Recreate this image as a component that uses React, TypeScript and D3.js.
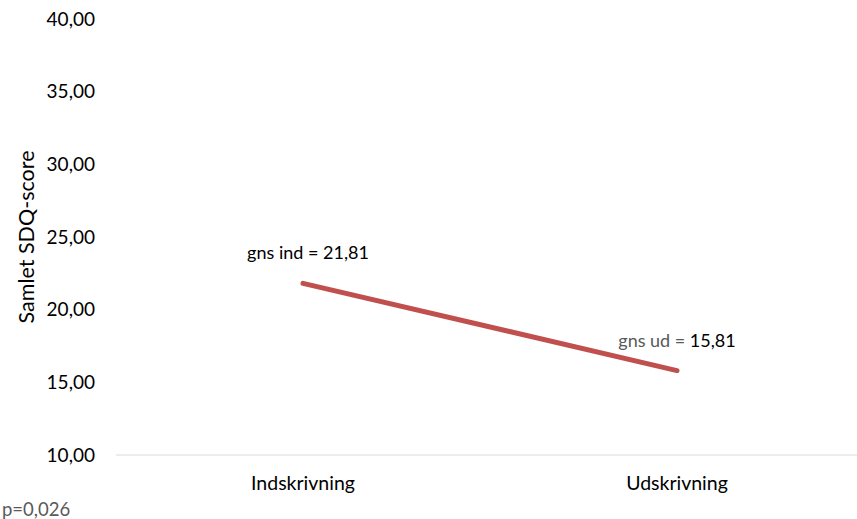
import { useEffect, useRef } from 'react'
import * as d3 from 'd3'

const categories = ['Indskrivning', 'Udskrivning']
const values = [21.81, 15.81]
const yTicks = [10, 15, 20, 25, 30, 35, 40]
const pointLabels = [
  { prefix: 'gns ind = ', value: '21,81', prefixColor: '#000' },
  { prefix: 'gns ud = ', value: '15,81', prefixColor: '#595959' },
]

export default function App() {
  const svgRef = useRef<SVGSVGElement>(null)

  useEffect(() => {
    if (!svgRef.current) return
    const svg = d3.select(svgRef.current)
    svg.selectAll('*').remove()

    const width = 857
    const height = 519
    const font = "Lato, 'Open Sans', sans-serif"

    svg.attr('width', width).attr('height', height)

    const x = d3.scaleBand().domain(categories).range([116, 864])
    const y = d3.scaleLinear().domain([10, 40]).range([455, 19])

    const cx = (c: string) => (x(c) || 0) + x.bandwidth() / 2

    // y tick labels
    svg.append('g')
      .selectAll('text')
      .data(yTicks)
      .enter()
      .append('text')
      .attr('x', 95)
      .attr('y', d => y(d))
      .attr('dy', '0.35em')
      .attr('text-anchor', 'end')
      .style('font-family', font)
      .style('font-size', '19px')
      .style('fill', '#000')
      .text(d => d3.format('.2f')(d).replace('.', ','))

    // x axis line
    svg.append('line')
      .attr('x1', 116)
      .attr('x2', width)
      .attr('y1', y(10))
      .attr('y2', y(10))
      .attr('stroke', '#D9D9D9')
      .attr('stroke-width', 1)

    // x labels
    svg.append('g')
      .selectAll('text')
      .data(categories)
      .enter()
      .append('text')
      .attr('x', d => cx(d))
      .attr('y', 483)
      .attr('dy', '0.35em')
      .attr('text-anchor', 'middle')
      .style('font-family', font)
      .style('font-size', '19.5px')
      .style('fill', '#000')
      .text(d => d)

    // y title
    svg.append('text')
      .attr('transform', `translate(26,${y(25)}) rotate(-90)`)
      .attr('text-anchor', 'middle')
      .attr('dy', '0.35em')
      .style('font-family', font)
      .style('font-size', '21.5px')
      .style('fill', '#000')
      .text('Samlet SDQ-score')

    // line
    const line = d3.line<number>()
      .x((_, i) => cx(categories[i]))
      .y(d => y(d))

    svg.append('path')
      .datum(values)
      .attr('d', line)
      .attr('fill', 'none')
      .attr('stroke', '#C0504D')
      .attr('stroke-width', 5)
      .attr('stroke-linecap', 'round')

    // point labels
    const offsets = [{ dx: 5, dy: -31 }, { dx: 0, dy: -30 }]
    pointLabels.forEach((l, i) => {
      const t = svg.append('text')
        .attr('x', cx(categories[i]) + offsets[i].dx)
        .attr('y', y(values[i]) + offsets[i].dy)
        .attr('dy', '0.35em')
        .attr('text-anchor', 'middle')
        .style('font-family', font)
        .style('font-size', '18px')
      t.append('tspan').style('fill', l.prefixColor).text(l.prefix)
      t.append('tspan').style('fill', '#000').text(l.value)
    })

    // p value
    svg.append('text')
      .attr('x', 2)
      .attr('y', 510)
      .attr('dy', '0.35em')
      .style('font-family', font)
      .style('font-size', '18.5px')
      .style('fill', '#595959')
      .text('p=0,026')
  }, [])

  return <svg ref={svgRef} style={{ display: 'block', position: 'absolute', left: 0, top: 0 }} />
}
